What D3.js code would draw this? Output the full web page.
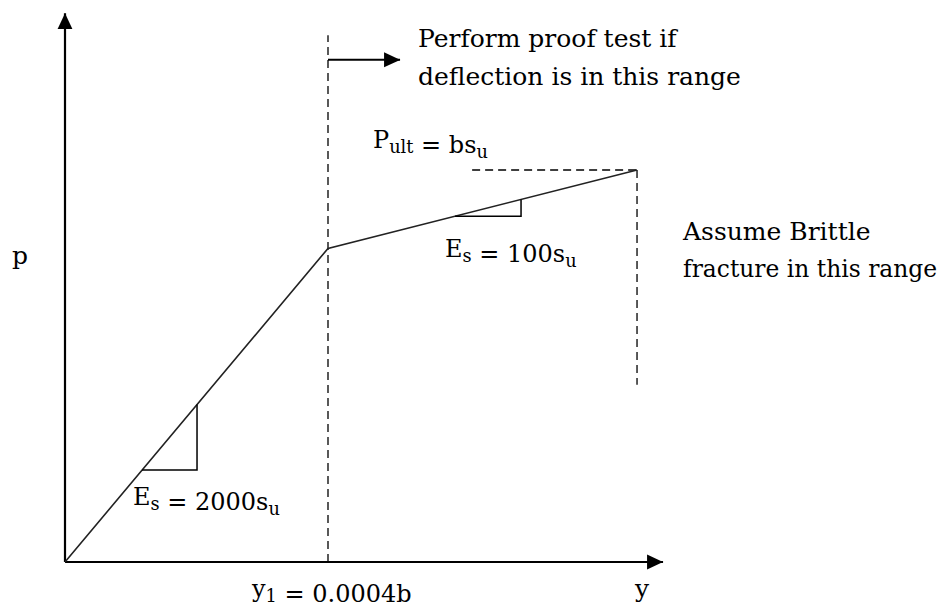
<!DOCTYPE html>
<html>
<head>
<meta charset="utf-8">
<script src="https://cdn.jsdelivr.net/npm/d3@7"></script>
<style>
  html, body { margin: 0; padding: 0; background: #fff; }
  svg { display: block; }
  text { font-family: "DejaVu Serif", "Liberation Serif", serif; fill: #000; }
</style>
</head>
<body>
<svg id="chart" width="949" height="608"></svg>
<script>
// Load–deflection curve, deflection in units of y1, load in units of P_ult
const curveY = [0, 1, 2.175];
const curveP = [0, 0.8, 1.0];

// Slope markers (start/end deflection of each little triangle, on segment i)
const slopeTriStart = [0.293, 1.483];
const slopeTriEnd   = [0.502, 1.734];
const slopeTriSeg   = [0, 1];

// Axis extents (arrow tips)
const axisYMax = 2.274;
const axisPMax = 1.40;

// Guide lines
const y1Guide = [1, 1.344];           // vertical dashed at y1: deflection, top load
const ultGuideY = [1.548, 2.175];     // horizontal dashed at P_ult: from, to
const ultGuideP = [1.0, 0.452];       // vertical dashed at end: top, bottom load
const rangeArrow = [1, 1.274, 1.281]; // from deflection, to deflection, load level

// Text
const proofText = ["Perform proof test if", "deflection is in this range"];
const brittleText = ["Assume Brittle", "fracture in this range"];

const svg = d3.select("#chart");
const x = d3.scaleLinear().domain([0, 1]).range([65, 328]);
const y = d3.scaleLinear().domain([0, 1]).range([562, 170]);

// Arrowhead marker
const defs = svg.append("defs");
defs.append("marker")
  .attr("id", "head")
  .attr("viewBox", "0 0 16 16")
  .attr("refX", 16).attr("refY", 8)
  .attr("markerWidth", 16).attr("markerHeight", 16)
  .attr("markerUnits", "userSpaceOnUse")
  .attr("orient", "auto")
  .append("path").attr("d", "M0,0.5 L16,8 L0,15.5 Z").attr("fill", "#000");

// Axes
svg.append("line")
  .attr("x1", x(0)).attr("y1", y(0)).attr("x2", x(0)).attr("y2", y(axisPMax))
  .attr("stroke", "#000").attr("stroke-width", 2.2).attr("marker-end", "url(#head)");
svg.append("line")
  .attr("x1", x(0)).attr("y1", y(0)).attr("x2", x(axisYMax)).attr("y2", y(0))
  .attr("stroke", "#000").attr("stroke-width", 2.2).attr("marker-end", "url(#head)");

// Dashed guides
const dash = "8,5";
svg.append("line")
  .attr("x1", x(y1Guide[0])).attr("y1", y(0)).attr("x2", x(y1Guide[0])).attr("y2", y(y1Guide[1]))
  .attr("stroke", "#000").attr("stroke-width", 1.3).attr("stroke-dasharray", dash);
svg.append("line")
  .attr("x1", x(ultGuideY[0])).attr("y1", y(1)).attr("x2", x(ultGuideY[1])).attr("y2", y(1))
  .attr("stroke", "#000").attr("stroke-width", 1.3).attr("stroke-dasharray", dash);
svg.append("line")
  .attr("x1", x(ultGuideY[1])).attr("y1", y(ultGuideP[0])).attr("x2", x(ultGuideY[1])).attr("y2", y(ultGuideP[1]))
  .attr("stroke", "#000").attr("stroke-width", 1.3).attr("stroke-dasharray", dash);

// Range arrow
svg.append("line")
  .attr("x1", x(rangeArrow[0])).attr("y1", y(rangeArrow[2]))
  .attr("x2", x(rangeArrow[1])).attr("y2", y(rangeArrow[2]))
  .attr("stroke", "#000").attr("stroke-width", 2).attr("marker-end", "url(#head)");

// Curve
const pts = curveY.map((v, i) => [v, curveP[i]]);
svg.append("path")
  .datum(pts)
  .attr("d", d3.line().x(d => x(d[0])).y(d => y(d[1])))
  .attr("fill", "none").attr("stroke", "#222").attr("stroke-width", 1.6);

// Slope triangles
function pAt(seg, v) {
  const t = (v - curveY[seg]) / (curveY[seg + 1] - curveY[seg]);
  return curveP[seg] + t * (curveP[seg + 1] - curveP[seg]);
}
slopeTriStart.forEach((s, i) => {
  const e = slopeTriEnd[i], seg = slopeTriSeg[i];
  const p0 = pAt(seg, s), p1 = pAt(seg, e);
  svg.append("path")
    .attr("d", `M${x(s)},${y(p0)} L${x(e)},${y(p0)} L${x(e)},${y(p1)}`)
    .attr("fill", "none").attr("stroke", "#000").attr("stroke-width", 1.5);
});

// Labels with subscripts
function label(px, py, parts, size) {
  const t = svg.append("text").attr("x", px).attr("y", py).attr("font-size", size);
  parts.forEach(([str, sub]) => {
    if (sub) {
      t.append("tspan").attr("font-size", size * 0.74).attr("dy", size * 0.2).text(str);
      t.append("tspan").attr("dy", -size * 0.2).text("");
    } else {
      t.append("tspan").text(str);
    }
  });
  return t;
}

const fs = 25;
const ms = 24;
label(12, 264, [["p"]], fs);
label(373, 148, [["P"], ["ult", true], [" = bs"], ["u", true]], ms);
label(445, 257, [["E"], ["s", true], [" = 100s"], ["u", true]], ms);
label(133, 505, [["E"], ["s", true], [" = 2000s"], ["u", true]], ms);
label(252, 597, [["y"], ["1", true], [" = 0.0004b"]], ms);
label(635, 597, [["y"]], fs);

proofText.forEach((s, i) => {
  svg.append("text").attr("x", 418).attr("y", 47 + i * 38).attr("font-size", fs).text(s);
});
brittleText.forEach((s, i) => {
  svg.append("text").attr("x", 683).attr("y", 240 + i * 37)
    .attr("font-size", i === 1 ? 23.4 : fs).text(s);
});
</script>
</body>
</html>
